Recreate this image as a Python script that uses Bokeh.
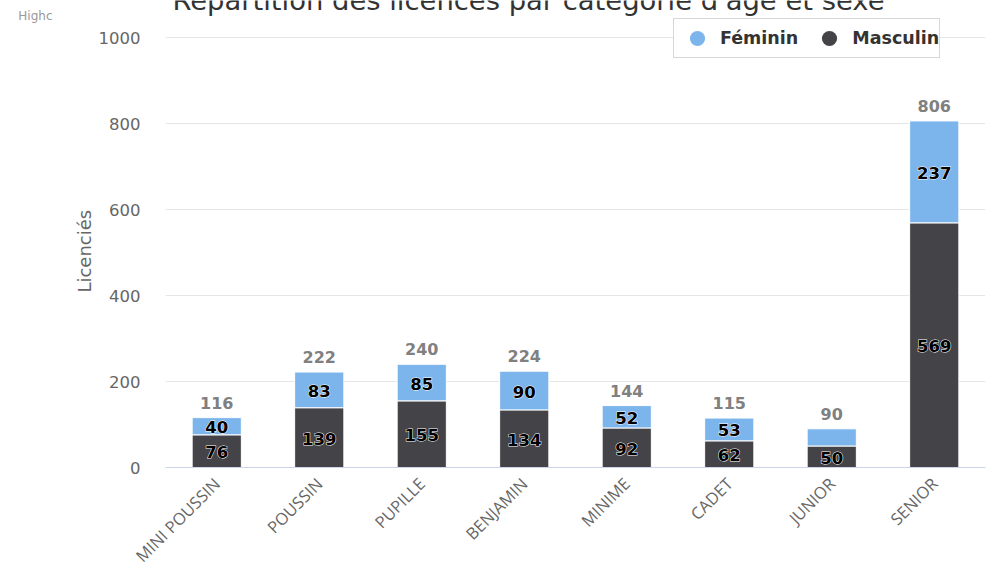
import math
from bokeh.plotting import figure
from bokeh.models import (FactorRange, Range1d, FixedTicker, Legend, LegendItem,
                          Label, ColumnDataSource, LinearAxis)
from bokeh.core.properties import value
from bokeh.embed import file_html
from bokeh.resources import INLINE

# ---- data ----
categories = ["MINI POUSSIN", "POUSSIN", "PUPILLE", "BENJAMIN",
              "MINIME", "CADET", "JUNIOR", "SENIOR"]
masculin = [76, 139, 155, 134, 92, 62, 50, 569]
feminin = [40, 83, 85, 90, 52, 53, 40, 237]
feminin_label_shown = [True, True, True, True, True, True, False, True]
y_ticks = [0, 200, 400, 600, 800, 1000]
series_names = ["Féminin", "Masculin"]
title_text = "Répartition des licences par catégorie d'âge et sexe"
y_title = "Licenciés"
credits_text = "Highc"

FEM_COLOR = "#7cb5ec"
MASC_COLOR = "#434348"

totals = [m + f for m, f in zip(masculin, feminin)]
masc_mid = [m / 2 for m in masculin]
fem_mid = [m + f / 2 for m, f in zip(masculin, feminin)]
masc_text = [str(m) for m in masculin]
fem_text = [str(f) if s else "" for f, s in zip(feminin, feminin_label_shown)]
total_text = [str(t) for t in totals]

# frame spans from the top of the page down to the x axis (467 px);
# 1000 sits 37 px below the top, as in the reference
Y_TOP = 1000 * 467 / 430
CREDIT_Y = 1000 * (467 - 15) / 430

p = figure(x_range=FactorRange(*categories), y_range=Range1d(0, Y_TOP),
           width=1000, height=578, output_backend="svg", toolbar_location=None,
           min_border_left=165, min_border_right=15, min_border_top=0,
           min_border_bottom=111)
p.outline_line_color = None
p.background_fill_color = "white"

source = ColumnDataSource(dict(cat=categories, masculin=masculin, feminin=feminin))
p.vbar_stack(["masculin", "feminin"], x="cat", width=0.48,
             fill_color=[MASC_COLOR, FEM_COLOR], line_color="white",
             line_width=1, source=source)

# data labels: white halo layer, then black text on top
base_kw = dict(text_align="center", text_baseline="middle",
               text_font=value("DejaVu Sans"), text_font_style="bold",
               text_font_size="16.5px", text_color="black")
for ys, txt in ((masc_mid, masc_text), (fem_mid, fem_text)):
    p.text(x=categories, y=ys, text=txt, y_offset=1,
           text_outline_color="white", **base_kw)
    p.text(x=categories, y=ys, text=txt, y_offset=1, **base_kw)

p.text(x=categories, y=totals, text=total_text, y_offset=-9,
       text_align="center", text_baseline="bottom",
       text_font=value("DejaVu Sans"), text_font_style="bold",
       text_font_size="16px", text_color="#808080")

# legend with circle markers (legend-only renderers, NaN values draw nothing)
nan = float("nan")
r_f = p.scatter(x=[categories[0]], y=[nan], marker="circle", size=16,
                fill_color=FEM_COLOR, line_color=None)
r_m = p.scatter(x=[categories[0]], y=[nan], marker="circle", size=16,
                fill_color=MASC_COLOR, line_color=None)
legend = Legend(items=[LegendItem(label=series_names[0], renderers=[r_f]),
                       LegendItem(label=series_names[1], renderers=[r_m])],
                orientation="horizontal", location=(508, 409),
                glyph_width=46, glyph_height=38, label_standoff=0, spacing=8,
                padding=0, margin=0,
                label_text_font="DejaVu Sans", label_text_font_style="bold",
                label_text_font_size="17.5px", label_text_color="#333333",
                label_text_baseline="middle",
                border_line_color="#b0b0b0", border_line_width=1,
                background_fill_color="white", background_fill_alpha=1)
p.add_layout(legend)

# axes
p.yaxis.ticker = FixedTicker(ticks=y_ticks)
p.yaxis.axis_line_color = None
p.yaxis.major_tick_line_color = None
p.yaxis.major_tick_out = 0
p.yaxis.major_tick_in = 0
p.yaxis.minor_tick_line_color = None
p.yaxis.major_label_text_font = "DejaVu Sans"
p.yaxis.major_label_text_font_size = "16.5px"
p.yaxis.major_label_text_color = "#666666"
p.yaxis.major_label_standoff = 25
# trailing no-break spaces keep the label centred on the 0..1000 span
p.yaxis.axis_label = y_title + "\u00a0" * 6
p.yaxis.axis_label_text_font = "DejaVu Sans"
p.yaxis.axis_label_text_font_size = "18px"
p.yaxis.axis_label_text_font_style = "normal"
p.yaxis.axis_label_text_color = "#666666"
p.yaxis.axis_label_standoff = 1

# outer left axis used only to show the (cut) credits text
credit_axis = LinearAxis(ticker=FixedTicker(ticks=[CREDIT_Y]),
                         major_label_overrides={CREDIT_Y: credits_text},
                         axis_line_color=None, major_tick_line_color=None,
                         minor_tick_line_color=None, major_tick_out=0, major_tick_in=0,
                         major_label_standoff=18,
                         major_label_text_font="DejaVu Sans",
                         major_label_text_font_size="12px",
                         major_label_text_color="#999999")
p.add_layout(credit_axis, "left")

p.xaxis.axis_line_color = "#ccd6eb"
p.xaxis.axis_line_width = 1
p.xaxis.major_tick_line_color = None
p.xaxis.minor_tick_line_color = None
p.xaxis.major_label_orientation = math.pi / 4
p.xaxis.major_label_text_font = "Open Sans"
p.xaxis.major_label_text_font_size = "16.5px"
p.xaxis.major_label_text_color = "#666666"
p.xaxis.major_label_standoff = 7

p.xgrid.grid_line_color = None
p.ygrid.grid_line_color = "#e6e6e6"
p.ygrid.grid_line_width = 1

# title (cropped at the top, as in the reference)
p.add_layout(Label(x=363, y=467, x_units="screen", y_units="screen",
                   text=title_text, text_align="center", text_baseline="alphabetic",
                   text_font="DejaVu Sans", text_font_size="27.4px",
                   text_color="#333333"))

open("out.html", "w").write(file_html(p, INLINE))
